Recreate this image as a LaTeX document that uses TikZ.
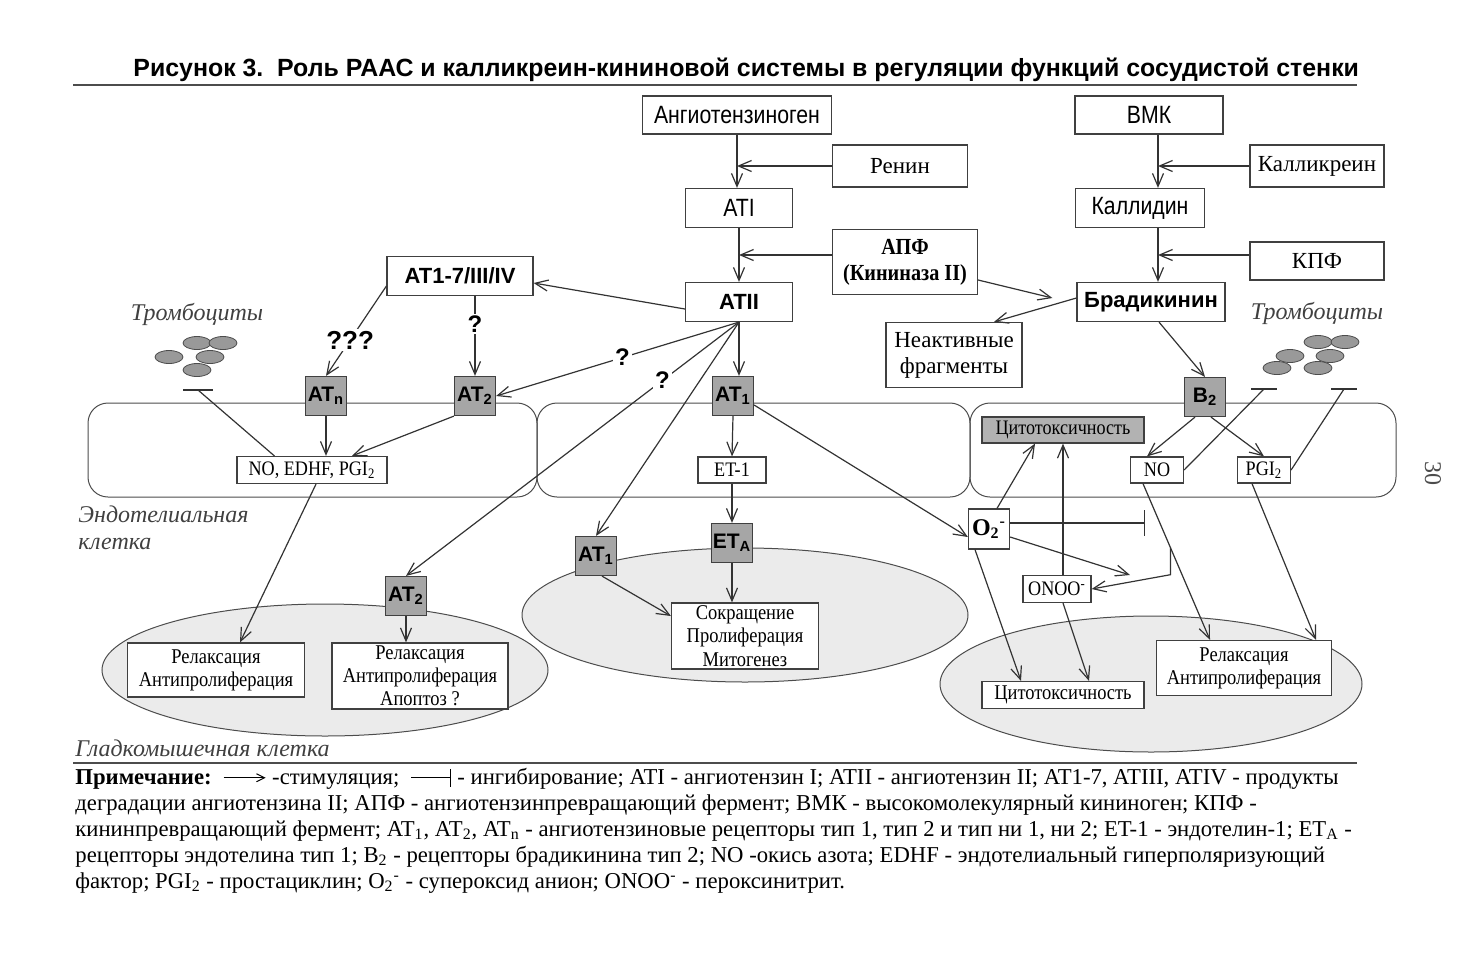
\documentclass[tikz,border=0pt]{standalone}
\usepackage{fontspec}
\setmainfont{Liberation Serif}
\setsansfont{Liberation Sans}
\newfontfamily\narrowsf[FakeStretch=0.85]{Liberation Sans}
\newfontfamily\narrowrm[FakeStretch=0.88]{Liberation Serif}
\usetikzlibrary{calc, arrows.meta, positioning}
\tikzset{>={Straight Barb[length=6.5pt,width=5.5pt]}}
\tikzset{
  box/.style={draw=black!75, fill=white, line width=0.6pt, inner sep=1pt, align=center, font=\fontsize{11.5}{13}\selectfont},
  narrowbox/.style={box, font=\narrowsf\fontsize{12.5}{14}\selectfont},
  boldbox/.style={box, font=\sffamily\bfseries\fontsize{11}{13}\selectfont},
  smallbox/.style={box, font=\narrowrm\fontsize{10.3}{12}\selectfont},
  cellbox/.style={box, font=\narrowrm\fontsize{10.5}{11.6}\selectfont},
  receptor/.style={draw=black!75, fill=black!35, line width=0.6pt, minimum width=20.5pt, minimum height=19.5pt, inner sep=0pt, font=\sffamily\bfseries\fontsize{10.5}{12}\selectfont},
  conn/.style={draw=black!80, line width=0.6pt},
  qmark/.style={fill=white, inner sep=1pt, font=\sffamily\bfseries\fontsize{12}{14}\selectfont},
  cell/.style={draw=black!70, line width=0.5pt, rounded corners=10pt},
  muscle/.style={draw=black!70, fill=black!8, line width=0.5pt},
  platelet/.style={draw=black!70, fill=black!40, line width=0.4pt},
  celltext/.style={font=\itshape\fontsize{12}{13.5}\selectfont, text=black!75, inner sep=0pt},
  note/.style={anchor=base west, inner sep=0pt, font=\fontsize{11.35}{13}\selectfont},
}

\begin{document}
\begin{tikzpicture}[x=0.5pt, y=-0.5pt]
\useasboundingbox (0,0) rectangle (1474,960);

% title
\node[font=\sffamily\bfseries\fontsize{12.45}{14}\selectfont, anchor=west, inner sep=0pt] (title) at (133,70) {Рисунок 3.\ \ Роль РААС и калликреин-кининовой системы в регуляции функций сосудистой стенки};
\draw[black!70, line width=0.6pt] (73,85) -- (1357,85);

% cells
\draw[muscle] (325,670) ellipse [x radius=223, y radius=66];
\draw[muscle] (745,615) ellipse [x radius=223, y radius=67];
\draw[muscle] (1151,684) ellipse [x radius=211, y radius=68];
\draw[cell] (88,403) rectangle (537,497);
\draw[cell] (537,403) rectangle (970,497);
\draw[cell] (970,403) rectangle (1396,497);

% platelets
\foreach \x/\y in {169/357, 197/343, 223/343, 210/357, 197/370}
  \draw[platelet] (\x,\y) ellipse [x radius=14, y radius=6.5];
\foreach \x/\y in {1318/342, 1345/342, 1290/356, 1330/356, 1277/368, 1318/368}
  \draw[platelet] (\x,\y) ellipse [x radius=14, y radius=6.5];
\node[celltext] (platl) at (197,314) {Тромбоциты};
\node[celltext] (platr) at (1317,313) {Тромбоциты};
\node[celltext, align=left, anchor=north west] (endo) at (78,505) {Эндотелиальная\\клетка};
\node[celltext, anchor=west] (smc) at (75,748) {Гладкомышечная клетка};

% RAAS
\node[narrowbox, minimum width=94.5pt, minimum height=19pt] (ang) at (737,115) {Ангиотензиноген};
\node[box, minimum width=67.5pt, minimum height=21pt] (renin) at (900,166) {Ренин};
\node[narrowbox, minimum width=53.5pt, minimum height=19.5pt] (ati) at (739,208) {ATI};
\node[box, font=\narrowrm\bfseries\fontsize{11.5}{13}\selectfont, minimum width=72.5pt, minimum height=32.5pt] (apf) at (905,262) {АПФ\\(Кининаза II)};
\node[boldbox, minimum width=53.5pt, minimum height=19.5pt] (atii) at (739,302) {ATII};
\node[boldbox, minimum width=73pt, minimum height=19.5pt] (at17) at (460,276) {AT1-7/III/IV};

% kallikrein-kinin
\node[narrowbox, minimum width=74pt, minimum height=19pt] (vmk) at (1149,115) {ВМК};
\node[box, minimum width=67pt, minimum height=21pt] (kallikr) at (1317,166) {Калликреин};
\node[narrowbox, minimum width=64.5pt, minimum height=19.5pt] (kallidin) at (1140,208) {Каллидин};
\node[box, minimum width=67pt, minimum height=19pt] (kpf) at (1317,261) {КПФ};
\node[boldbox, minimum width=74pt, minimum height=19.5pt] (brad) at (1151,302) {Брадикинин};
\node[box, minimum width=68pt, minimum height=32.5pt] (inact) at (954,355) {Неактивные\\фрагменты};

% receptors
\node[receptor] (atn) at (326,396) {AT\textsubscript{n}};
\node[receptor] (at2a) at (475,396) {AT\textsubscript{2}};
\node[receptor] (at1a) at (733,396) {AT\textsubscript{1}};
\node[receptor] (b2) at (1205,397) {B\textsubscript{2}};
\node[receptor] (eta) at (732,543) {ET\textsubscript{A}};
\node[receptor] (at1b) at (596,556) {AT\textsubscript{1}};
\node[receptor] (at2b) at (406,596) {AT\textsubscript{2}};

% mediators
\node[smallbox, minimum width=75pt, minimum height=13.5pt] (noedhf) at (312,470) {NO, EDHF, PGI\textsubscript{2}};
\node[smallbox, minimum width=34pt, minimum height=13pt] (et1) at (732,470) {ET-1};
\node[smallbox, fill=black!30, minimum width=81pt, minimum height=13pt] (cyto1) at (1063,430) {Цитотоксичность};
\node[smallbox, minimum width=26.5pt, minimum height=13pt] (no) at (1157,470) {NO};
\node[smallbox, minimum width=26.5pt, minimum height=13pt] (pgi) at (1264,470) {PGI\textsubscript{2}};
\node[box, font=\bfseries\fontsize{12}{14}\selectfont, minimum width=20.5pt, minimum height=20pt, inner sep=0pt] (o2) at (989,529) {O\textsubscript{2}\textsuperscript{-}};
\node[smallbox, minimum width=34pt, minimum height=13.5pt] (onoo) at (1057,589) {ONOO\textsuperscript{-}};

% effects
\node[cellbox, minimum width=73.5pt, minimum height=33pt] (contr) at (745,636) {Сокращение\\Пролиферация\\Митогенез};
\node[cellbox, minimum width=88.5pt, minimum height=27pt] (relax1) at (216,670) {Релаксация\\Антипролиферация};
\node[cellbox, minimum width=88pt, minimum height=33pt] (relax2) at (420,676) {Релаксация\\Антипролиферация\\Апоптоз ?};
\node[cellbox, minimum width=81pt, minimum height=13.5pt] (cyto2) at (1063,695) {Цитотоксичность};
\node[cellbox, minimum width=87.5pt, minimum height=27.5pt] (relax3) at (1244,668) {Релаксация\\Антипролиферация};

% RAAS arrows
\draw[conn,->] (ang.south) -- (ati.north -| ang.south);
\draw[conn,->] (renin.west) -- (renin.west -| ang.south);
\coordinate (apfjoin) at ($(ati.south)!0.5!(atii.north)$);
\draw[conn,->] (ati.south) -- (atii.north);
\draw[conn,->] (apf.west |- apfjoin) -- (apfjoin);
\draw[conn,->] ([yshift=-3.5pt]atii.west) -- ([yshift=-3.5pt]at17.east);
\draw[conn,->] ([yshift=-5pt]at17.west) -- node[qmark, pos=0.6, font=\sffamily\bfseries\fontsize{13}{14}\selectfont] {???} (atn.north);
\draw[conn,->] (at2a.north |- at17.south) -- node[qmark, pos=0.35] {?} (at2a.north);
\draw[conn,->] (atii.south) -- node[qmark, pos=0.48] {?} (at2a.east);
\draw[conn,->] (atii.south) -- node[qmark, pos=0.23] {?} (at2b.north);
\draw[conn,->] (atii.south) -- (at1b.north);
\draw[conn,->] (atii.south) -- (at1a.north -| atii.south);

% kinin arrows
\coordinate (kk) at ([xshift=4.5pt]vmk.south);
\draw[conn,->] (kk) -- (kk |- kallidin.north);
\draw[conn,->] (kallikr.west) -- (kallikr.west -| kk);
\coordinate (kpfjoin) at ($(kallidin.south)!0.5!(brad.north)$);
\draw[conn,->] (kk |- kallidin.south) -- (kk |- brad.north);
\draw[conn,->] (kpf.west |- kpfjoin) -- (kk |- kpfjoin);
\draw[conn,->] ([yshift=-9pt]apf.east) -- ([xshift=-12pt,yshift=2pt]brad.west);
\draw[conn,->] ([yshift=2pt]brad.west) -- ([xshift=20pt]inact.north);
\draw[conn,->] ([xshift=4pt]brad.south) -- (b2.north);

% endothelium left
\draw[conn,->] (atn.south) -- (atn.south |- noedhf.north);
\draw[conn,->] (at2a.south west) -- ([xshift=20pt]noedhf.north);
\coordinate (barl) at (198,390);
\draw[conn] ([xshift=19pt]noedhf.north west) -- (barl);
\draw[conn] (barl) ++(-15,0) -- ++(30,0);
\draw[conn,->] ([xshift=2pt]noedhf.south) -- ([xshift=12pt]relax1.north);
\draw[conn,->] (at2b.south) -- (at2b.south |- relax2.north);

% endothelium middle
\draw[conn,->] (at1a.south) -- (et1.north);
\draw[conn,->] (et1.south) -- (eta.north);
\draw[conn,->] (eta.south) -- (eta.south |- contr.north);
\draw[conn,->] ([xshift=3pt]at1b.south) -- ([yshift=10pt]contr.west);
\draw[conn,->] ([yshift=-4.5pt]at1a.east) -- ([yshift=-4pt]o2.west);

% endothelium right
\draw[conn,->] ([xshift=-5pt]b2.south) -- ([xshift=-5pt]no.north);
\draw[conn,->] ([xshift=3pt]b2.south) -- (pgi.north);
\coordinate (barr1) at (1264,389);
\coordinate (barr2) at (1344,389);
\draw[conn] (no.east) -- (barr1);
\draw[conn] (barr1) ++(-13,0) -- ++(26,0);
\draw[conn] (pgi.east) -- (barr2);
\draw[conn] (barr2) ++(-13,0) -- ++(26,0);
\draw[conn,->] ([xshift=4pt]o2.north) -- ([xshift=-14pt]cyto1.south);
\draw[conn,<-] (cyto1.south) -- (cyto1.south |- onoo.north);
\coordinate (o2bar) at (1145,523);
\draw[conn,-{Bar[width=13pt]}] ([yshift=3pt]o2.east) -- (o2bar);
\coordinate (o2head) at (1130,575);
\draw[conn,->] ([yshift=-4pt]o2.east) -- (o2head);
\coordinate (nostart) at ([xshift=-7pt]no.south);
\coordinate (noend) at ([xshift=-17pt]relax3.north);
\draw[conn,->] (nostart) -- (noend);
\coordinate (nobranch) at ($(nostart)!0.41!(noend)$);
\draw[conn,->] (nobranch) -- ++(0,27) -- (onoo.east);
\draw[conn,->] ([xshift=-6pt]pgi.south) -- ([xshift=36pt]relax3.north);
\draw[conn,->] ([xshift=-7pt]o2.south) -- ([xshift=-21pt]cyto2.north);
\draw[conn,->] ([xshift=3pt]onoo.south) -- ([xshift=13pt]cyto2.north);

% page number
\node[rotate=-90, font=\fontsize{12}{14}\selectfont, text=black!70] (page) at (1433,473) {30};

% note
\draw[black!70, line width=0.6pt] (73,763) -- (1357,763);
\node[note] (note1) at (75,784) {\textbf{Примечание:}\ \ \tikz[baseline=-0.6ex]\draw[line width=0.5pt,-{Straight Barb[length=4pt,width=4pt]}] (0pt,0pt) -- (21pt,0pt); -стимуляция;\ \ \tikz[baseline=-0.6ex]\draw[line width=0.5pt,-{Bar[width=9pt]}] (0pt,0pt) -- (20pt,0pt); - ингибирование; ATI - ангиотензин I; ATII - ангиотензин II; AT1-7, ATIII, ATIV - продукты};
\node[note] (note2) at (75,810) {деградации ангиотензина II; АПФ - ангиотензинпревращающий фермент; ВМК - высокомолекулярный кининоген; КПФ -};
\node[note] (note3) at (75,836) {кининпревращающий фермент; AT\textsubscript{1}, AT\textsubscript{2}, AT\textsubscript{n} - ангиотензиновые рецепторы тип 1, тип 2 и тип ни 1, ни 2; ET-1 - эндотелин-1; ET\textsubscript{A} -};
\node[note] (note4) at (75,862) {рецепторы эндотелина тип 1; B\textsubscript{2} - рецепторы брадикинина тип 2; NO -окись азота; EDHF - эндотелиальный гиперполяризующий};
\node[note] (note5) at (75,888) {фактор; PGI\textsubscript{2} - простациклин; O\textsubscript{2}\textsuperscript{-} - супероксид анион; ONOO\textsuperscript{-} - пероксинитрит.};
\end{tikzpicture}
\end{document}
